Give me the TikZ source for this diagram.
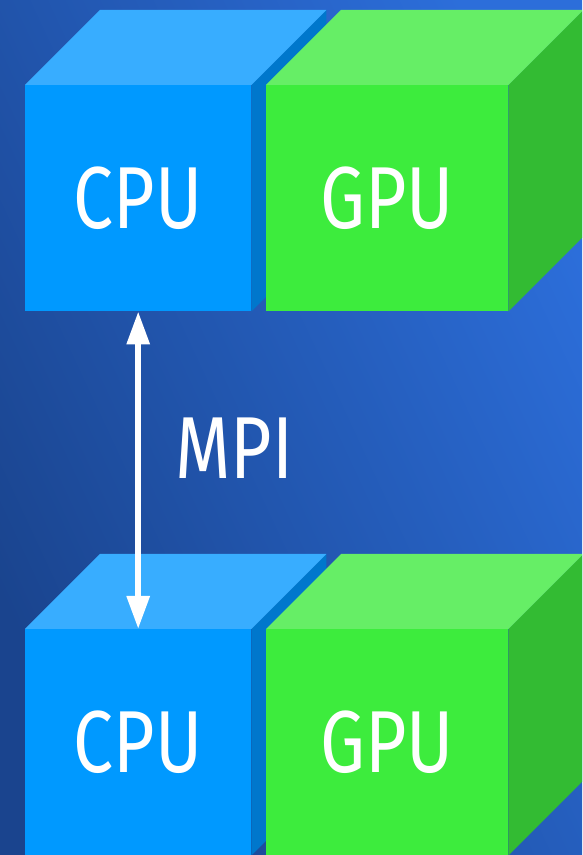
\documentclass[tikz,border=0pt]{standalone}
\usepackage{fontspec}
\setmainfont{Fira Sans}[FakeStretch=0.81]
\usetikzlibrary{arrows.meta,calc,backgrounds}
\definecolor{bgdark}{HTML}{1A448E}
\definecolor{bglight}{HTML}{2C6EDA}
\definecolor{cpufront}{HTML}{0099FF}
\definecolor{cputop}{HTML}{38ADFF}
\definecolor{cpuside}{HTML}{0077CC}
\definecolor{gpufront}{HTML}{3DEC3D}
\definecolor{gputop}{HTML}{66EE66}
\definecolor{gpuside}{HTML}{33BB33}
\tikzset{
  face/.style={rectangle, inner sep=0pt, anchor=north west, text=white, font=\fontsize{88}{90}\selectfont},
  cpuface/.style={face, fill=cpufront, minimum width=226pt, minimum height=226pt},
  gpuface/.style={face, fill=gpufront, minimum width=242pt, minimum height=226pt},
  link/.style={draw=white, line width=6pt, {Triangle[width=22pt,length=33pt]}-{Triangle[width=22pt,length=33pt]}},
  label/.style={text=white, inner sep=0pt, anchor=west, font=\fontsize{88}{90}\selectfont},
}
\newcommand{\cubeparts}[3]{%
  \fill[#3] (#1.north east) -- ++(75pt,75pt) -- ($(#1.south east)+(75pt,75pt)$) -- (#1.south east) -- cycle;
  \fill[#2] (#1.north west) -- ++(75pt,75pt) -- ($(#1.north east)+(75pt,75pt)$) -- (#1.north east) -- cycle;
}
\begin{document}
\begin{tikzpicture}[x=1pt,y=1pt]
  \useasboundingbox (0,0) rectangle (582,855);
  % top pair
  \node[cpuface] (cpu1) at (25,770) {CPU};
  \node[gpuface] (gpu1) at (266,770) {GPU};
  % bottom pair
  \node[cpuface] (cpu2) at (25,226) {CPU};
  \node[gpuface] (gpu2) at (266,226) {GPU};
  \begin{pgfonlayer}{background}
    \clip (0,0) rectangle (582,855);
    \shade[bottom color=bgdark, top color=bglight, shading angle=-65] (0,0) rectangle (582,855);
    \cubeparts{cpu1}{cputop}{cpuside}
    \cubeparts{gpu1}{gputop}{gpuside}
    \cubeparts{cpu2}{cputop}{cpuside}
    \cubeparts{gpu2}{gputop}{gpuside}
  \end{pgfonlayer}
  \draw[link] (cpu1.south) -- (cpu2.north);
  \node[label] (mpi) at ($(cpu1.south)+(37,-137)$) {MPI};
\end{tikzpicture}
\end{document}
